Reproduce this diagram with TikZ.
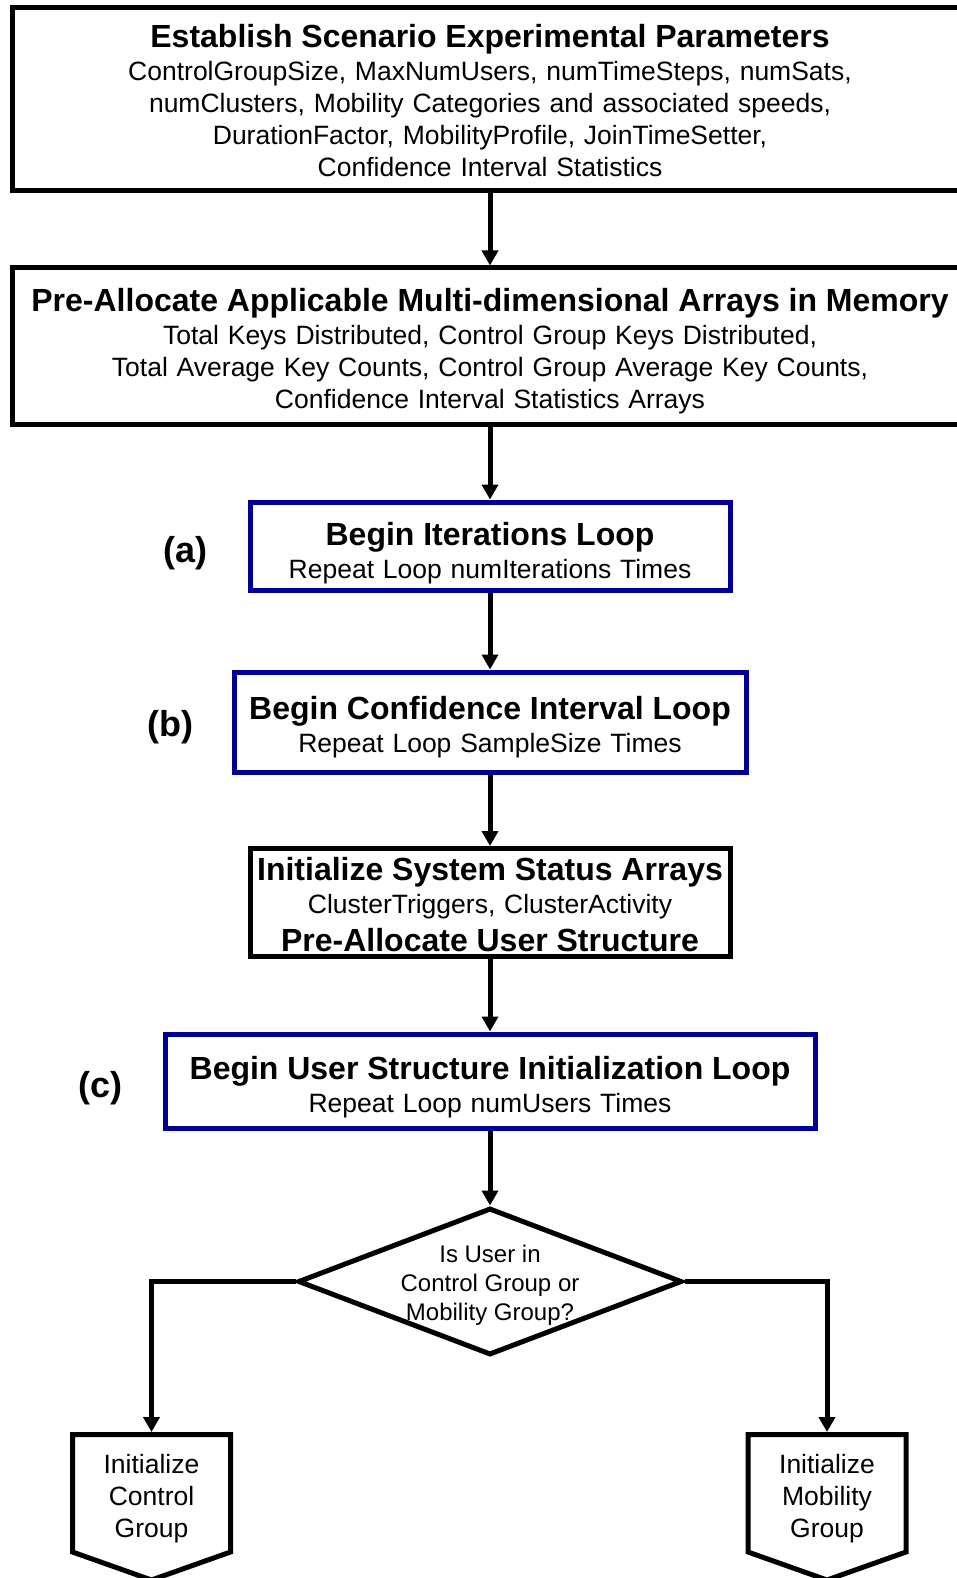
\documentclass[tikz,border=0pt]{standalone}
\usepackage{fontspec}
\setmainfont{Liberation Sans}
\usetikzlibrary{arrows.meta,positioning,shapes.geometric}
\definecolor{loopblue}{RGB}{0,0,150}
\newcommand\stepfont{\fontsize{32}{36}\selectfont\bfseries}
\newcommand\infofont{\fontsize{26.5}{31.7}\selectfont}
\newcommand\dropstrut[1]{\rule{0pt}{#1}}

\begin{document}
\begin{tikzpicture}[x=1pt,y=-1pt,>={Triangle[width=16pt,length=15pt]},
box/.style={draw=black,line width=5pt,inner sep=0pt,align=center,font=\infofont},
loopbox/.style={box,draw=loopblue},
tag/.style={inner sep=0pt,font=\fontsize{36}{40}\selectfont\bfseries},
decision/.style={diamond,draw=black,line width=5pt,inner sep=-6pt,aspect=2.6,minimum width=384pt,minimum height=147pt,align=center,font=\fontsize{24}{28.7}\selectfont},
grp/.style={inner sep=0pt,outer sep=0pt,minimum width=158pt,minimum height=117.5pt,align=center,font=\infofont},
flow/.style={->,line width=5pt,draw=black}]
\useasboundingbox (0,0) rectangle (956,1578);
\node[box,minimum width=956pt,minimum height=183pt,text width=940pt] (est) at (490,99)
{\dropstrut{26pt}{\stepfont Establish Scenario Experimental Parameters}\\[1.5pt]
ControlGroupSize, MaxNumUsers, numTimeSteps, numSats,\\
numClusters, Mobility Categories and associated speeds,\\
DurationFactor, MobilityProfile, JoinTimeSetter,\\
Confidence Interval Statistics};
\node[box,minimum width=956pt,minimum height=156.5pt,text width=940pt] (pre) at (490,346.25)
{\dropstrut{33pt}{\stepfont Pre-Allocate Applicable Multi-dimensional Arrays in Memory}\\[1.5pt]
Total Keys Distributed, Control Group Keys Distributed,\\
Total Average Key Counts, Control Group Average Key Counts,\\
Confidence Interval Statistics Arrays};
\node[loopbox,minimum width=480pt,minimum height=88pt,text width=472pt] (iter) at (490,546)
{\dropstrut{37pt}{\stepfont Begin Iterations Loop}\\[1.5pt] Repeat Loop numIterations Times};
\node[loopbox,minimum width=512pt,minimum height=100pt,text width=504pt] (conf) at (490,722)
{\dropstrut{34pt}{\stepfont Begin Confidence Interval Loop}\\[1.5pt] Repeat Loop SampleSize Times};
\node[box,minimum width=480pt,minimum height=108pt,text width=476pt] (init) at (490,902.5)
{\dropstrut{27pt}{\stepfont Initialize System Status Arrays}\\[1.5pt] ClusterTriggers, ClusterActivity\\[5.5pt]
{\stepfont Pre-Allocate User Structure}};
\node[loopbox,minimum width=650pt,minimum height=94pt,text width=642pt] (user) at (490,1081)
{\dropstrut{35pt}{\stepfont Begin User Structure Initialization Loop}\\[1.5pt] Repeat Loop numUsers Times};
\node[decision] (grpq) at (490,1281.5) {\dropstrut{25pt}Is User in\\Control Group or\\Mobility Group?};
\node[grp] (ctrl) at (151.5,1493.25) {\dropstrut{30pt}Initialize\\Control\\Group};
\node[grp] (mob) at (827,1493.25) {\dropstrut{30pt}Initialize\\Mobility\\Group};
\node[tag,left=40pt of iter,yshift=-7pt] (taga) {(a)};
\node[tag,left=38pt of conf,yshift=-5pt] (tagb) {(b)};
\node[tag,left=40pt of user,yshift=-7pt] (tagc) {(c)};
% off-page shapes round the two group nodes
\foreach \g in {ctrl,mob}
  \draw[line width=5pt] (\g.south west) -- (\g.north west) -- (\g.north east) -- (\g.south east) -- ([yshift=-28pt]\g.south) -- cycle;
\draw[flow] (est) -- (pre);
\draw[flow] (pre) -- (iter);
\draw[flow] (iter) -- (conf);
\draw[flow] (conf) -- (init);
\draw[flow] (init) -- (user);
\draw[flow] (user) -- (grpq);
\draw[flow,shorten >=2.5pt] (grpq.west) -| (ctrl.north);
\draw[flow,shorten >=2.5pt] (grpq.east) -| (mob.north);
\end{tikzpicture}
\end{document}
